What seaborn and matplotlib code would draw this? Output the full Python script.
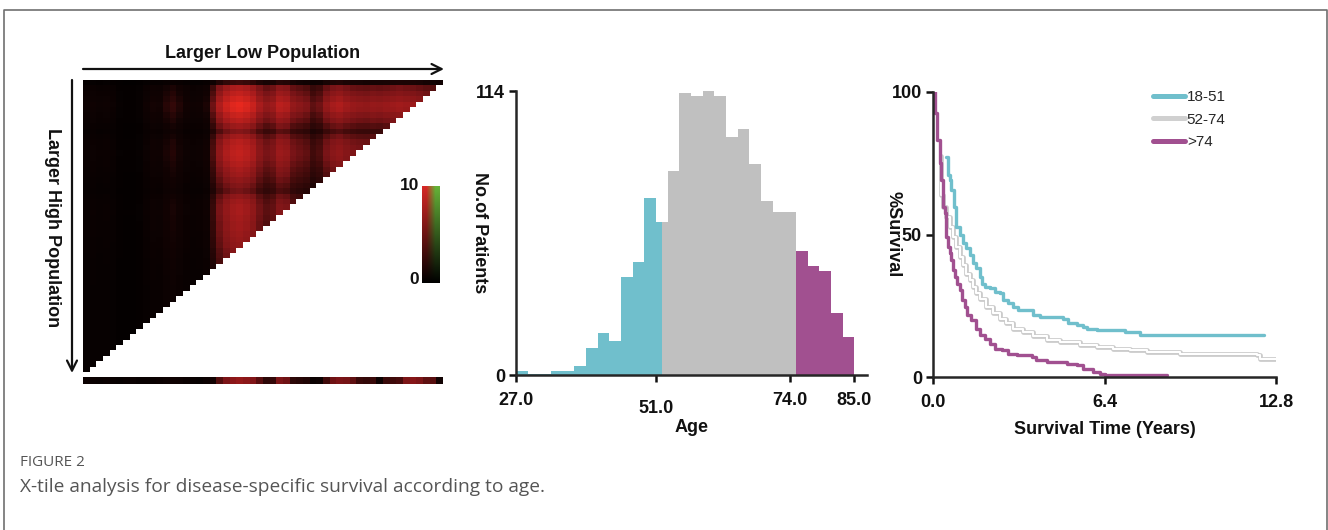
import numpy as np
import pandas as pd
import matplotlib
matplotlib.use("Agg")
import matplotlib.pyplot as plt
import seaborn as sns
from matplotlib.colors import LinearSegmentedColormap
from matplotlib.lines import Line2D

# ---------------- data ----------------
# X-tile heat map: column (low population) and row (high population) intensities
col_profile = [1.0, 1.2, 1.0, 1.1, 0.9,
               0.4, 0.3, 0.3, 0.5,
               1.2, 1.6, 1.5,
               2.2, 2.6, 2.0,
               1.4, 1.2, 1.3, 1.8,
               4.2,
               6.8, 8.4, 9.4, 9.8, 9.2, 8.2, 6.5,
               5.6, 6.0,
               7.4, 7.0,
               5.6, 5.2, 4.8,
               3.8, 4.2,
               5.6, 6.4, 6.8, 6.2,
               5.8, 5.6, 5.5, 5.7, 5.6, 5.8, 6.0, 6.2, 6.0, 5.9, 5.6, 5.3, 5.0, 4.6]
row_profile = [0.3,
               0.7, 0.8, 0.9,
               1.0, 0.97,
               0.85, 0.75, 0.62,
               0.5,
               0.64, 0.74, 0.78, 0.8, 0.78, 0.72, 0.66,
               0.62, 0.56,
               0.5, 0.45,
               0.56, 0.62, 0.65, 0.66, 0.64, 0.62, 0.62, 0.6, 0.58, 0.56,
               0.52, 0.5, 0.48, 0.46, 0.45, 0.44, 0.43, 0.42, 0.42, 0.41,
               0.4, 0.4, 0.4, 0.4, 0.4, 0.4, 0.4, 0.4, 0.4, 0.4, 0.4, 0.4, 0.4]
strip_profile = [0.8, 0.8, 0.7, 0.8, 0.7, 0.5, 0.6, 0.9, 0.6, 0.7, 0.7, 0.8, 1.0, 1.2, 1.1, 0.8, 0.6, 0.5, 0.8,
                 1.5,
                 3.5, 4.5, 5.2, 5.6, 5.2, 4.8, 3.6,
                 2.4, 2.6,
                 4.6, 4.2,
                 2.4, 2.2, 2.0,
                 0.8, 1.0,
                 3.0, 4.2, 4.5, 4.4, 3.8,
                 2.8, 2.6, 2.8,
                 1.0,
                 2.8, 3.0, 3.2,
                 4.6, 5.0, 4.6,
                 3.8, 3.6,
                 1.5]

# Age histogram (2-year bins)
age_bin_left = [27, 29, 31, 33, 35, 37, 39, 41, 43, 45, 47, 49, 51, 53, 55,
                57, 59, 61, 63, 65, 67, 69, 71, 73, 75, 77, 79, 81, 83]
age_counts = [1.5, 0.3, 0.3, 1.6, 1.6, 3.6, 10.7, 16.7, 13.7, 39.5, 45.5, 71.0, 61.6, 82.0, 113.0,
              111.8, 114.0, 112.0, 95.7, 98.8, 84.7, 69.9, 65.6, 65.6, 49.8, 43.8, 41.8, 24.8, 15.4]
age_bin_width = 2
age_cuts = [52, 75]
group_labels = ["18-51", "52-74", ">74"]
age_ticks = [27.0, 51.0, 74.0, 85.0]

# Survival curves (time in years, % survival)
t_young = [0.50, 0.56, 0.62, 0.69, 0.77, 0.87, 1.00, 1.12, 1.25, 1.37, 1.50, 1.62, 1.74, 1.81,
           1.93, 2.12, 2.31, 2.49, 2.62, 2.80, 2.99, 3.18, 3.74, 3.99, 4.49, 4.86, 5.05, 5.36,
           5.61, 5.73, 6.11, 7.17, 7.73, 12.34]
s_young = [77.1, 70.9, 69.2, 65.6, 59.8, 52.8, 49.8, 46.9, 45.1, 42.8, 39.9, 38.1, 35.2, 32.8,
           31.7, 31.1, 29.9, 29.3, 27.0, 25.8, 24.6, 23.4, 21.7, 21.1, 20.9, 20.5, 18.8, 18.2,
           17.6, 17.0, 16.4, 15.8, 14.7, 14.7]
t_mid = [0.28, 0.29, 0.37, 0.50, 0.62, 0.75, 0.87, 1.00, 1.12, 1.25, 1.37, 1.50, 1.62, 1.74,
         1.99, 2.24, 2.49, 2.74, 2.99, 3.37, 3.74, 4.24, 4.74, 5.48, 6.11, 6.73, 7.35, 7.98,
         9.22, 10.47, 12.09, 12.21, 12.8]
s_mid = [77.4, 63.9, 59.8, 56.3, 52.8, 49.2, 45.7, 42.2, 39.3, 36.3, 34.0, 31.7, 29.3, 27.5,
         24.6, 22.3, 20.5, 18.8, 17.0, 15.8, 14.3, 13.1, 12.3, 11.1, 10.6, 10.0, 9.4, 8.8,
         8.2, 8.0, 7.6, 6.4, 6.4]
t_old = [0.05, 0.06, 0.15, 0.25, 0.31, 0.37, 0.44, 0.50, 0.56, 0.62, 0.69, 0.75, 0.81, 0.90,
         1.00, 1.10, 1.18, 1.27, 1.43, 1.62, 1.74, 1.93, 2.12, 2.31, 2.56, 2.80, 3.12, 3.68,
         3.86, 4.24, 4.99, 5.36, 5.61, 5.98, 6.23, 6.42, 8.72]
s_old = [100.0, 92.6, 83.2, 75.0, 69.2, 59.8, 57.4, 49.2, 45.7, 43.4, 41.0, 37.5, 35.2, 32.8,
         30.5, 27.0, 24.6, 21.7, 19.9, 17.0, 14.7, 13.5, 11.7, 10.0, 9.4, 8.2, 7.6, 7.0,
         5.9, 5.3, 4.7, 4.1, 2.9, 1.8, 1.2, 0.6, 0.6]

# ---------------- style ----------------
sns.set_theme(style="ticks")
plt.rcParams["font.family"] = ["Liberation Sans", "DejaVu Sans"]
plt.rcParams["axes.linewidth"] = 1.8

C_CYAN = "#70bfcc"
C_GRAY = "#c0c0c0"
C_PURP = "#a15090"
TXT = "#111111"

W, H = 1328, 530
fig = plt.figure(figsize=(W / 100, H / 100), dpi=100)


def fx(px):
    return px / W


def fy(py):
    return 1 - py / H


def add_axes_px(x0, y0, x1, y1):
    return fig.add_axes([fx(x0), fy(y1), fx(x1) - fx(x0), (y1 - y0) / H])


# outer frame (open at bottom)
fig.add_artist(Line2D([fx(4), fx(4), fx(1326.5), fx(1326.5)], [0, fy(10), fy(10), 0],
                      color="#707070", lw=1.2))

# ---------------- heat map ----------------
red_cmap = LinearSegmentedColormap.from_list(
    "xtile", [(0.0, (0.01, 0.0, 0.0)), (0.15, (0.07, 0.01, 0.01)), (0.3, (0.25, 0.04, 0.04)),
              (0.45, (0.48, 0.08, 0.09)), (0.65, (0.66, 0.11, 0.11)), (1.0, (0.92, 0.16, 0.12))])
mat = np.outer(np.array(row_profile), np.array(col_profile))
n_r, n_c = mat.shape
ii, jj = np.indices(mat.shape)
mask = jj > (n_c - 1 - ii)
ax_hm = add_axes_px(83, 80, 443, 372)
sns.heatmap(pd.DataFrame(mat), mask=mask, cmap=red_cmap, vmin=0, vmax=10, cbar=False,
            xticklabels=False, yticklabels=False, ax=ax_hm)
ax_hm.tick_params(length=0)

ax_strip = add_axes_px(83, 377, 443, 384)
sns.heatmap(pd.DataFrame([strip_profile]), cmap=red_cmap, vmin=0, vmax=10, cbar=False,
            xticklabels=False, yticklabels=False, ax=ax_strip)
ax_strip.tick_params(length=0)

# colour key (red | green)
ax_cb = add_axes_px(422, 186, 440, 283)
g = np.linspace(0, 1, 100)[::-1][:, None]
red_top = np.array([0.84, 0.16, 0.15])
green_top = np.array([0.40, 0.70, 0.22])
rgb = np.concatenate([g[:, :, None] * red_top[None, None, :],
                      g[:, :, None] * green_top[None, None, :]], axis=1)
ax_cb.imshow(rgb, aspect="auto", interpolation="bilinear")
ax_cb.axis("off")
fig.text(fx(419), fy(186), "10", ha="right", va="center", fontsize=12.5, fontweight="bold", color=TXT)
fig.text(fx(419), fy(280), "0", ha="right", va="center", fontsize=12.5, fontweight="bold", color=TXT)

# arrows and titles
arrow_kw = dict(arrowstyle="->", color=TXT, lw=1.6, mutation_scale=18, shrinkA=0, shrinkB=0)
fig.add_artist(matplotlib.patches.FancyArrowPatch((fx(83), fy(69)), (fx(444), fy(69)),
                                                  transform=fig.transFigure, **arrow_kw))
fig.add_artist(matplotlib.patches.FancyArrowPatch((fx(72), fy(80)), (fx(72), fy(373)),
                                                  transform=fig.transFigure, **arrow_kw))
fig.text(fx(263), fy(53), "Larger Low Population", ha="center", va="center",
         fontsize=13, fontweight="bold", color=TXT)
fig.text(fx(52), fy(228), "Larger High Population", ha="center", va="center", rotation=270,
         fontsize=13, fontweight="bold", color=TXT)

# ---------------- histogram ----------------
ax_h = add_axes_px(516, 91, 867, 375)
palette = [C_CYAN, C_GRAY, C_PURP]
bounds = [-np.inf] + age_cuts + [np.inf]
for left, cnt in zip(age_bin_left, age_counts):
    right = left + age_bin_width
    for k in range(3):
        a = max(left, bounds[k])
        b = min(right, bounds[k + 1])
        if b > a:
            ax_h.bar(a, cnt, width=b - a, align="edge", color=palette[k], linewidth=0)
ax_h.set_xlim(27, 87.2)
ax_h.set_ylim(0, 114)
ax_h.set_yticks([0, 114])
ax_h.set_yticklabels(["0", "114"])
ax_h.set_xticks(age_ticks)
ax_h.set_xticklabels([f"{v:.1f}" for v in age_ticks])
sns.despine(ax=ax_h)
ax_h.tick_params(direction="out", length=5, width=1.8, labelsize=13, colors=TXT, pad=3)
ax_h.tick_params(axis="x", pad=7)
for lab in ax_h.get_xticklabels() + ax_h.get_yticklabels():
    lab.set_fontweight("bold")
mt = ax_h.xaxis.get_major_ticks()
mt[1].tick1line.set_markersize(10)
mt[1].set_pad(13)
ax_h.set_xlabel("Age", fontsize=13, fontweight="bold", color=TXT)
ax_h.set_ylabel("No.of Patients", fontsize=13, fontweight="bold", color=TXT, rotation=270,
                va="center", ha="center")
ax_h.yaxis.set_label_coords(-0.103, 0.5)
ax_h.xaxis.set_label_coords(0.5, -0.155)

# ---------------- survival ----------------
ax_s = add_axes_px(933, 92, 1276, 377)
sns.lineplot(x=t_mid, y=s_mid, drawstyle="steps-post", color="#cacaca", lw=3.4,
             estimator=None, sort=False, ax=ax_s)
sns.lineplot(x=t_mid, y=s_mid, drawstyle="steps-post", color="white", lw=1.5,
             estimator=None, sort=False, ax=ax_s)
sns.lineplot(x=t_old, y=s_old, drawstyle="steps-post", color=C_PURP, lw=2.4,
             estimator=None, sort=False, ax=ax_s)
sns.lineplot(x=t_young, y=s_young, drawstyle="steps-post", color=C_CYAN, lw=2.4,
             estimator=None, sort=False, ax=ax_s)
ax_s.set_xlim(0, 12.8)
ax_s.set_ylim(0, 100)
ax_s.set_xticks([0, 6.4, 12.8])
ax_s.set_xticklabels(["0.0", "6.4", "12.8"])
ax_s.set_yticks([0, 50, 100])
sns.despine(ax=ax_s)
ax_s.tick_params(direction="out", length=5, width=1.8, labelsize=13, colors=TXT, pad=3)
ax_s.tick_params(axis="x", pad=7)
for lab in ax_s.get_xticklabels() + ax_s.get_yticklabels():
    lab.set_fontweight("bold")
ax_s.set_xlabel("Survival Time (Years)", fontsize=13, fontweight="bold", color=TXT)
ax_s.set_ylabel("%Survival", fontsize=13, fontweight="bold", color=TXT, rotation=270,
                va="center", ha="center")
ax_s.yaxis.set_label_coords(-0.117, 0.5)
ax_s.xaxis.set_label_coords(0.5, -0.155)
handles = [Line2D([], [], color=C_CYAN, lw=3.6),
           Line2D([], [], color="#d0d0d0", lw=3.6),
           Line2D([], [], color=C_PURP, lw=3.6)]
ax_s.legend(handles, group_labels, loc="upper left", bbox_to_anchor=(0.624, 1.028),
            frameon=False, fontsize=11, handlelength=2.1, handletextpad=0.1,
            labelspacing=0.55, borderaxespad=0)

# ---------------- caption ----------------
fig.text(fx(20), fy(462), "FIGURE 2", ha="left", va="center", fontsize=11,
         family="Open Sans", color="#555555")
fig.text(fx(20), fy(487), "X-tile analysis for disease-specific survival according to age.",
         ha="left", va="center", fontsize=13.8, family="Open Sans", color="#555555")

fig.savefig("out.png", dpi=100)
